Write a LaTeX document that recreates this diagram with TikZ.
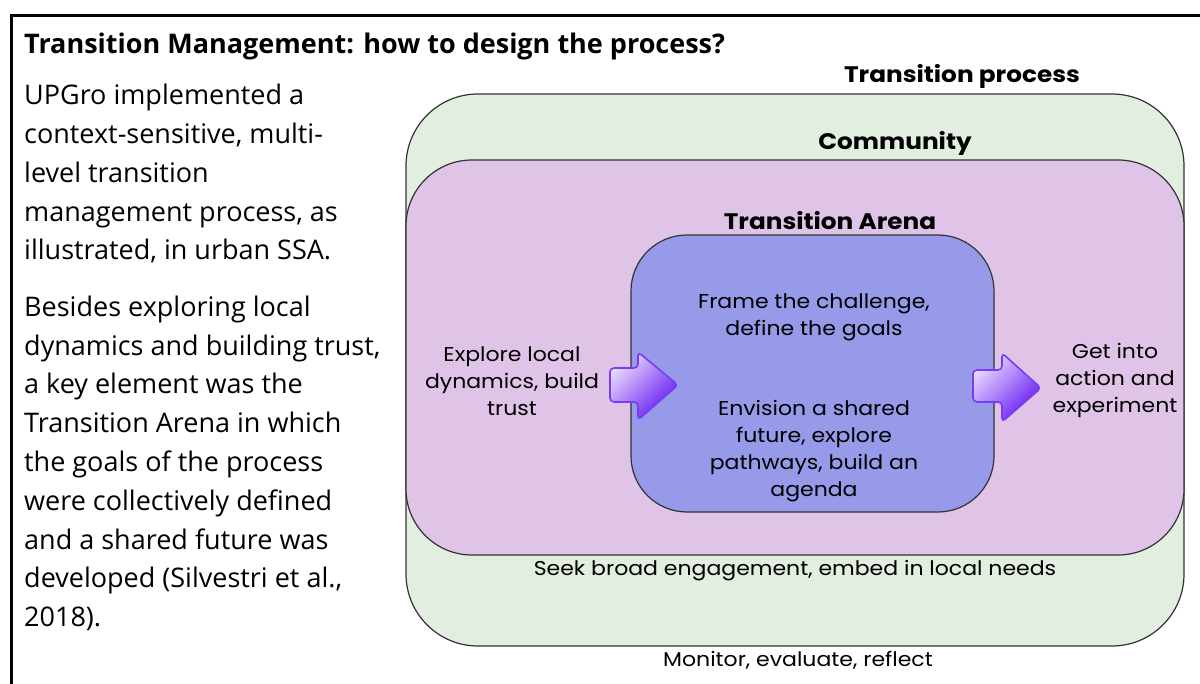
\documentclass[tikz,border=0pt]{standalone}
\usepackage{fontspec}
\setmainfont{Open Sans}
\newfontfamily\diagfont[FakeStretch=1.1]{Poppins}
\definecolor{arrowlight}{RGB}{232,220,255}
\definecolor{arrowdark}{RGB}{100,20,240}
\definecolor{arrowline}{RGB}{120,60,245}
\definecolor{processfill}{RGB}{226,238,223}
\definecolor{communityfill}{RGB}{223,196,232}
\definecolor{arenafill}{RGB}{151,153,233}
\begin{document}
\begin{tikzpicture}[x=1pt,y=-1pt,
  zone/.style={draw=black!80,line width=1.2},
  bodytxt/.style={font=\fontsize{27}{38.8}\selectfont,align=left,inner sep=0},
  headtxt/.style={font=\diagfont\bfseries\fontsize{22.5}{26}\selectfont,inner sep=0},
  steptxt/.style={font=\diagfont\fontsize{20}{27}\selectfont,align=center,inner sep=0},
  blockarrow/.style={draw=arrowline,line width=1.6,rounded corners=4,
    top color=arrowlight,bottom color=arrowdark,shading angle=45}]
\useasboundingbox (0,0) rectangle (1200,684);
\clip (0,0) rectangle (1200,684);
\fill[white] (0,0) rectangle (1200,684);
% outer frame, running off the right and bottom edges
\draw[line width=3] (11,700) -- (11,16) -- (1210,16);

% heading and explanatory text
\node[anchor=base west,inner sep=0,font=\bfseries\fontsize{27}{30}\selectfont] (title) at (24,54)
  {Transition Management: how to design the process?};
\node[bodytxt,anchor=north west] (para) at (24,84)
  {UPGro implemented a\\ context-sensitive, multi-\\ level transition\\ management process, as\\ illustrated, in urban SSA.\\[17.5pt]
   Besides exploring local\\ dynamics and building trust,\\ a key element was the\\ Transition Arena in which\\ the goals of the process\\ were collectively defined\\ and a shared future was\\ developed (Silvestri et al.,\\ 2018).};

% nested zones
\draw[zone,fill=processfill,rounded corners=72] (406,94) rectangle (1184,646);
\draw[zone,fill=communityfill,rounded corners=66] (406,160) rectangle (1184,555);
\draw[zone,fill=arenafill,rounded corners=56] (631,235) rectangle (994,512);

% zone headings
\node[headtxt] (process) at (962,76) {Transition process};
\node[headtxt] (community) at (895,143) {Community};
\node[headtxt] (arena) at (830,221) {Transition Arena};

% steps
\node[steptxt] (frame) at (814,317) {Frame the challenge,\\ define the goals};
\node[steptxt] (envision) at (814,451) {Envision a shared\\ future, explore\\ pathways, build an\\ agenda};
\node[steptxt] (explore) at (512,381) {Explore local\\ dynamics, build\\ trust};
\node[steptxt] (action) at (1115,380) {Get into\\ action and\\ experiment};
\node[steptxt] (engage) at (795,571) {Seek broad engagement, embed in local needs};
\node[steptxt] (monitor) at (798,660) {Monitor, evaluate, reflect};

% block arrows into and out of the arena
\path[blockarrow] (610,368) -- (638,368) -- (638,352) -- (678,385) -- (638,420) -- (638,402) -- (610,402) -- cycle;
\path[blockarrow] (973,370) -- (1002,370) -- (1002,353) -- (1041,388) -- (1002,422) -- (1002,402) -- (973,402) -- cycle;
\end{tikzpicture}
\end{document}
